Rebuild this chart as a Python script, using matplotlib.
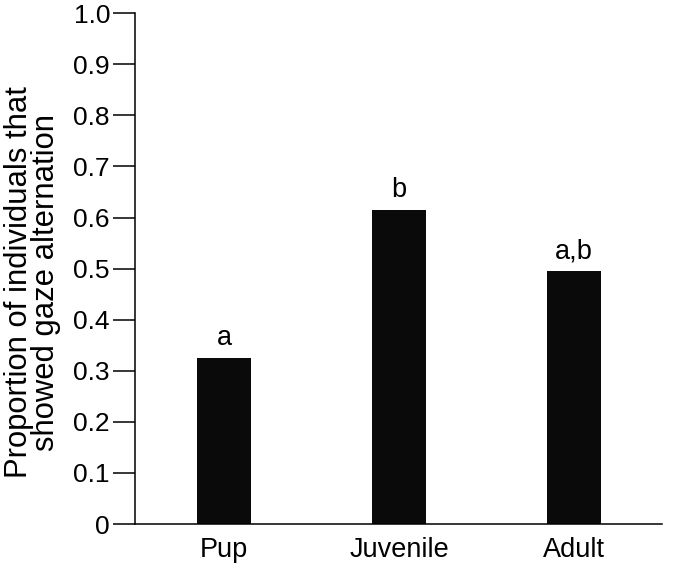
import numpy as np
import matplotlib.pyplot as plt

plt.rcParams['font.family'] = ['Liberation Sans', 'DejaVu Sans']

# Data
groups = ['Pup', 'Juvenile', 'Adult']
proportions = [0.325, 0.615, 0.495]
letters = ['a', 'b', 'a,b']

fig = plt.figure(figsize=(6.75, 5.7), dpi=100)
ax = fig.add_axes([0.2, 0.0807, 0.781, 0.896])

x = np.arange(len(groups))
bars = ax.bar(x, proportions, width=0.31, color='#0a0a0a')

# Significance letters above bars
for xi, val, lab in zip(x, proportions, letters):
    ax.annotate(lab, (xi, val), xytext=(0, 5), textcoords='offset points',
                ha='center', va='bottom', fontsize=19.5)

ax.set_xlim(-0.509, 2.503)
ax.set_ylim(0, 1.0)
ax.set_yticks(np.arange(0, 1.01, 0.1))
ax.set_yticklabels(['0'] + [f'{v:.1f}' for v in np.arange(0.1, 1.01, 0.1)])
ax.set_xticks(x)
ax.set_xticklabels(groups)

ax.spines['top'].set_visible(False)
ax.spines['right'].set_visible(False)
for s in ['left', 'bottom']:
    ax.spines[s].set_linewidth(1.1)

ax.tick_params(axis='y', length=16, width=1.1, pad=2, labelsize=19)
ax.tick_params(axis='x', length=0, pad=9, labelsize=19.5)

ax.set_ylabel('Proportion of individuals that\nshowed gaze alternation',
              fontsize=22.3, linespacing=0.88)
ax.yaxis.set_label_coords(-0.14, 0.473)

fig.savefig('out.png', dpi=100)
